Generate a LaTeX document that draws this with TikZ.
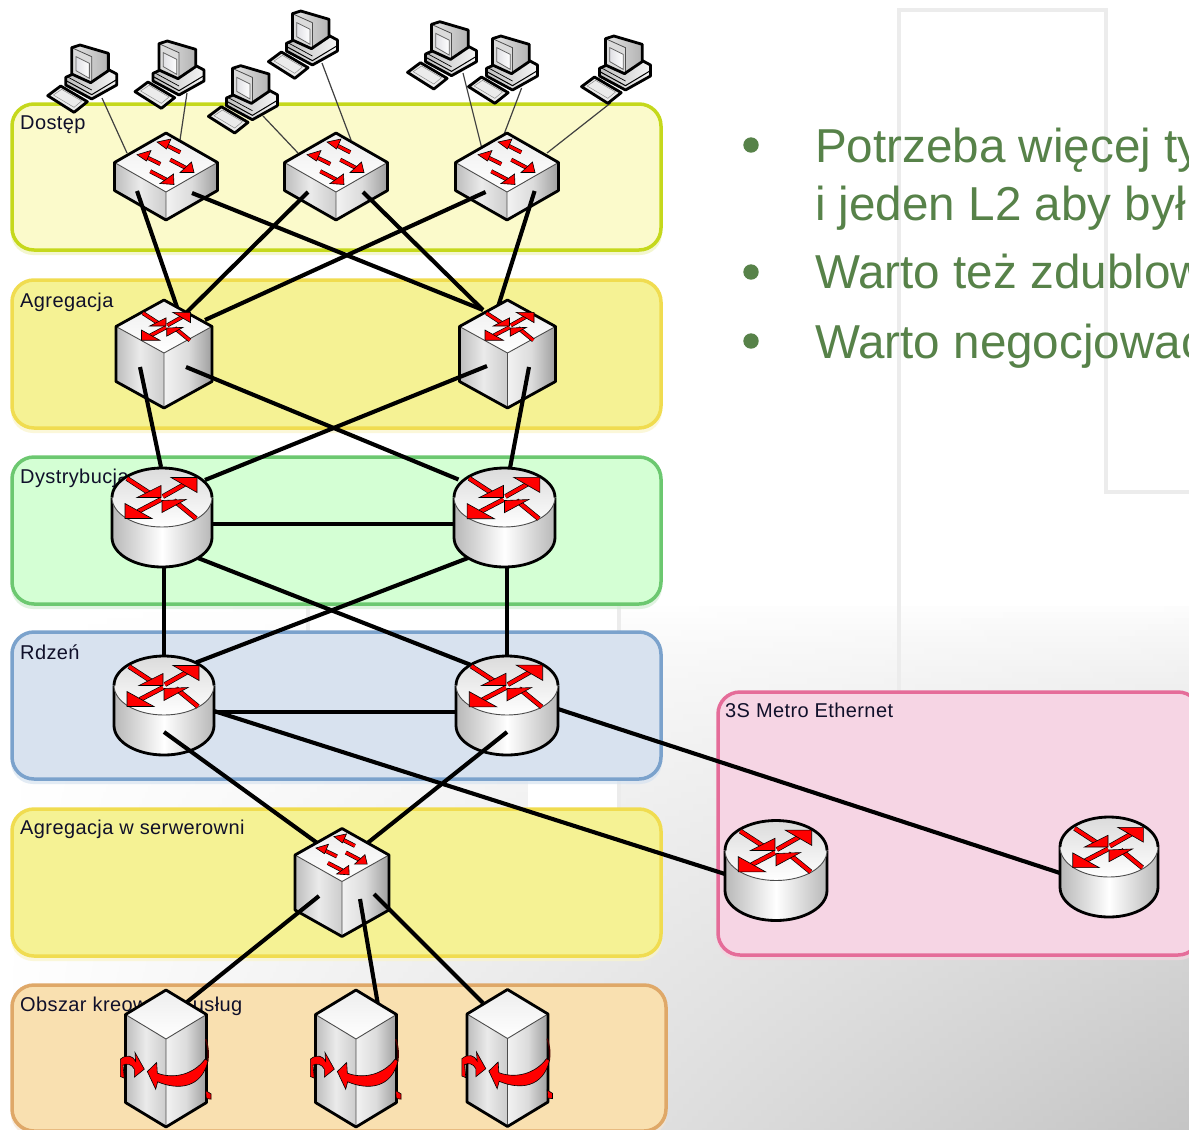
\documentclass[tikz,border=0pt]{standalone}
\usepackage{fontspec}
\setmainfont{Liberation Sans}
\newfontfamily\labfont[LetterSpace=2]{Liberation Sans}
\usetikzlibrary{calc}
\definecolor{accS}{HTML}{C5D81C}\definecolor{accF}{HTML}{FBFACB}
\definecolor{aggS}{HTML}{F0DC50}\definecolor{aggF}{HTML}{F5F294}
\definecolor{disS}{HTML}{6CC870}\definecolor{disF}{HTML}{D4FFD4}
\definecolor{corS}{HTML}{7BA2CC}\definecolor{corF}{HTML}{D8E2EF}
\definecolor{srvS}{HTML}{DFA868}\definecolor{srvF}{HTML}{F9E0B0}
\definecolor{metS}{HTML}{E56C99}\definecolor{metF}{HTML}{F6D5E4}
\definecolor{bulletgreen}{HTML}{578249}
\definecolor{framegray}{HTML}{ECECEC}
\definecolor{labelink}{HTML}{10102A}
\tikzset{
  zonebox/.style={rounded corners=22pt,line width=3.5pt,inner sep=0pt,outer sep=0pt},
  zonelabel/.style={anchor=west,inner sep=0pt,text=labelink,font=\labfont\fontsize{20}{24}\selectfont},
  bullettext/.style={anchor=base west,inner sep=0pt,text=bulletgreen,font=\fontsize{47.6}{58}\selectfont},
  bulletdot/.style={circle,fill=bulletgreen,minimum size=15.4pt,inner sep=0pt},
  devpoint/.style={inner sep=0pt,outer sep=0pt,minimum size=0pt},
  link/.style={line width=4.1pt,black},
  thinlink/.style={line width=1.2pt,black!75},
  edgeout/.style={line width=2.8pt,black,line join=round},
  edgein/.style={line width=.9pt,black!70,line join=round},
  redhead/.style={fill=red,draw=black,line width=.6pt,line join=miter},
}
% red arrow shaft
\newcommand{\rdshaft}[3]{%
  \draw[line width=#3pt+1.3pt,black] #1 -- #2;
  \draw[line width=#3pt,red] #1 -- #2;}
% four-arrow symbol of a switch, origin at the top corner
\newcommand{\swsymbol}{%
  \rdshaft{(14.3,19.3)}{(-2,11)}{2.8}
  \rdshaft{(-5.7,31)}{(-22,23)}{2.8}
  \rdshaft{(4.3,26.7)}{(20,35)}{2.8}
  \rdshaft{(-15.7,38.3)}{(0,46.5)}{2.8}
  \draw[redhead] (-9,9) -- (5,6) -- (0.5,16) -- cycle;
  \draw[redhead] (-29,21.7) -- (-15,17.5) -- (-19.5,28) -- cycle;
  \draw[redhead] (28,39.5) -- (14,39.5) -- (25.5,29) -- cycle;
  \draw[redhead] (8,51.5) -- (-6,50.5) -- (7.5,41) -- cycle;}
% four-arrow symbol of a router, origin at the crossing
\newcommand{\rtsymbol}[1]{%
  \rdshaft{(-35,-19)}{(-12,-4)}{#1}
  \rdshaft{(1,-1)}{(24,-14)}{#1}
  \rdshaft{(34,21)}{(12,3)}{#1}
  \rdshaft{(-1,2)}{(-24,14)}{#1}
  \draw[redhead] (-1,0) -- (-1,-12) -- (-25,0) -- cycle;
  \draw[redhead] (35,-20) -- (35,-5) -- (9,-20) -- cycle;
  \draw[redhead] (0,3) -- (0,15) -- (24,2) -- cycle;
  \draw[redhead] (-37,21) -- (-37,6) -- (-10,21) -- cycle;}
% isometric box: name, half width, half diamond height, height
\newcommand{\isobody}[4]{%
  \pgfmathsetmacro\tY{-#3-#4/2}\pgfmathsetmacro\mY{-#4/2}%
  \pgfmathsetmacro\fY{#3-#4/2}\pgfmathsetmacro\lY{#4/2}\pgfmathsetmacro\bY{#3+#4/2}%
  \shade[left color=black!26,right color=black!20,middle color=black!8]
    (-#2,\mY) -- (0,\fY) -- (0,\bY) -- (-#2,\lY) -- cycle;
  \shade[left color=black!5,right color=black!38,middle color=black!14]
    (#2,\mY) -- (0,\fY) -- (0,\bY) -- (#2,\lY) -- cycle;
  \shade[top color=black!7,bottom color=white]
    (0,\tY) -- (#2,\mY) -- (0,\fY) -- (-#2,\mY) -- cycle;
  \draw[edgein] (-#2,\mY) -- (0,\fY) -- (#2,\mY) (0,\fY) -- (0,\bY);
  \draw[edgeout] (0,\tY) -- (#2,\mY) -- (#2,\lY) -- (0,\bY) -- (-#2,\lY) -- (-#2,\mY) -- cycle;}
\newcommand{\switchdev}[5]{% name,w,h,dz,scale
  \begin{scope}[shift={(#1)}]
    \isobody{#1}{#2}{#3}{#4}
    \begin{scope}[shift={(0,\tY)},scale=#5]\swsymbol\end{scope}
  \end{scope}}
\newcommand{\cubedev}[1]{%
  \begin{scope}[shift={(#1)}]
    \isobody{#1}{48}{26.5}{55}
    \begin{scope}[shift={(2.7,-28)},scale=.68]\rtsymbol{2.8}\end{scope}
  \end{scope}}
% router cylinder: name, rx, ry, height
\newcommand{\routerdev}[4]{%
  \begin{scope}[shift={(#1)}]
    \pgfmathsetmacro\uY{-#4/2}\pgfmathsetmacro\dY{#4/2}%
    \shade[left color=black!28,right color=black!28,middle color=white]
      (-#2,\uY) -- (-#2,\dY) arc[start angle=180,end angle=360,x radius=#2pt,y radius=#3pt] -- (#2,\uY) -- cycle;
    \draw[edgeout] (-#2,\uY) -- (-#2,\dY) arc[start angle=180,end angle=360,x radius=#2pt,y radius=#3pt] -- (#2,\uY);
    \shade[top color=black!14,bottom color=white] (0,\uY) ellipse[x radius=#2pt,y radius=#3pt];
    \draw[edgein] (-#2,\uY) arc[start angle=180,end angle=360,x radius=#2pt,y radius=#3pt];
    \draw[edgeout] (-#2,\uY) arc[start angle=180,end angle=0,x radius=#2pt,y radius=#3pt];
    \begin{scope}[shift={(0,\uY)},scale=#2/50]\rtsymbol{3.6}\end{scope}
  \end{scope}}
% server: box with rotating arrow
\newcommand{\serverdev}[1]{%
  \begin{scope}[shift={(#1)}]
    \isobody{#1}{40.5}{24.5}{88}
    \begin{scope}[shift={(0,-68)},scale=1/3,shift={(-203,-92)}]
      \draw[line width=1.4pt,black!70!red] (322,238) .. controls (331,265) and (331,285) .. (328,305);
      \draw[redhead] (329,303) .. controls (310,385) and (240,392) .. (178,366) -- (172,388) -- (147,335) -- (175,308) -- (177,340) .. controls (225,358) and (285,345) .. (320,298) -- cycle;
      \draw[redhead] (66,298) .. controls (85,282) and (105,288) .. (112,305) -- (110,278) -- (138,328) -- (108,352) -- (108,328) .. controls (100,312) and (85,310) .. (74,316) -- (78,355) -- (66,350) -- cycle;
      \draw[redhead] (322,392) -- (338,402) -- (338,418) -- (324,416) -- cycle;
    \end{scope}
  \end{scope}}
% desktop computer
\newcommand{\pcdev}[1]{%
  \begin{scope}[shift={(#1)},shift={(-45,-35)},scale=1/3,shift={(-143,-135)}]
    \draw[edgeout,fill=black!8] (143,287) -- (182,258) -- (262,305) -- (222,337) -- cycle;
    \draw[black!45,line width=.5pt] (160,285) -- (185,268) -- (245,303) -- (222,322) -- cycle;
    \shade[left color=black!25,right color=black!4] (197,232) -- (197,255) -- (275,297) -- (350,255) -- (350,222) -- (290,190) -- cycle;
    \draw[edgeout] (197,232) -- (197,255) -- (275,297) -- (350,255) -- (350,222) -- (290,190) -- cycle;
    \draw[black,line width=1pt] (200,243) -- (275,284) -- (348,240);
    \draw[black,line width=.7pt] (205,232) -- (275,270);
    \shade[left color=black!10,right color=black!30] (215,143) -- (240,135) -- (325,160) -- (325,212) -- (272,248) -- (215,222) -- cycle;
    \fill[black!14] (215,143) -- (275,170) -- (275,250) -- (215,222) -- cycle;
    \shade[left color=blue!14!black!12,right color=white] (228,170) -- (268,190) -- (268,235) -- (228,212) -- cycle;
    \draw[black!60,line width=.8pt] (228,170) -- (268,190) -- (268,235) -- (228,212) -- cycle;
    \draw[edgein,line width=.8pt] (215,143) -- (275,170) -- (275,250);
    \draw[edgeout] (215,143) -- (240,135) -- (325,160) -- (325,212) -- (272,248) -- (215,222) -- cycle;
  \end{scope}}

\begin{document}
\begin{tikzpicture}[x=1pt,y=-1pt]
\useasboundingbox (0,0) rectangle (1189,1130);
\clip (0,0) rectangle (1189,1130);
\fill[white] (0,0) rectangle (1189,1130);
% slide background
\foreach \yy in {600,606,...,1128}{
  \pgfmathsetmacro\gg{23*((\yy-600+.01)/530)^.7}
  \shade[left color=white,right color=black!\gg!white] (0,\yy) rectangle (1189,\yy+6.6);
}
\fill[white] (310,604) rectangle (617,634);
\fill[white] (528,778) rectangle (617,810);
\fill[framegray] (306,604) rectangle (310,634);
\fill[framegray] (617,604) rectangle (621,634);
\fill[framegray] (617,778) rectangle (621,810);
\draw[framegray,line width=3.6pt] (899,695) -- (899,10) -- (1106,10) -- (1106,492) -- (1195,492);
% zones
\foreach \nm/\cy/\hh/\ww/\cx/\st/\fl in {zA/177/146/649/336.5/accS/accF,zB/354/148/649/336.5/aggS/aggF,zC/530.5/147/649/336.5/disS/disF,zD/705.5/147/649/336.5/corS/corF,zE/882.5/147/649/336.5/aggS/aggF,zF/1058/146/654/339/srvS/srvF,zG/823.5/263/482/959/metS/metF}{
  \fill[\st!30,opacity=.7,rounded corners=22pt] (\cx-\ww/2-1,\cy-\hh/2+4) rectangle (\cx+\ww/2+1,\cy+\hh/2+5);
  \node[zonebox,draw=\st,fill=\fl,minimum width=\ww pt,minimum height=\hh pt] (\nm) at (\cx,\cy) {};
}
% zone labels
\node[zonelabel] (lA) at (20,124.5) {Dostęp};
\node[zonelabel] (lB) at (20,302) {Agregacja};
\node[zonelabel] (lC) at (20,478) {Dystrybucja};
\node[zonelabel] (lD) at (20,652) {Rdzeń};
\node[zonelabel] (lE) at (20,829) {Agregacja w serwerowni};
\node[zonelabel] (lF) at (20,1006) {Obszar kreowania usług};
\node[zonelabel] (lG) at (725,710.5) {3S Metro Ethernet};
% bullets
\node[bulletdot] (b1) at (751,145) {};
\node[bullettext] (t1) at (815,162) {Potrzeba więcej ty};
\node[bullettext] (t2) at (815,220) {i jeden L2 aby był};
\node[bulletdot] (b2) at (751,272) {};
\node[bullettext] (t3) at (815,288) {Warto też zdublow};
\node[bulletdot] (b3) at (751,341) {};
\node[bullettext] (t4) at (815,358) {Warto negocjować};
% device reference points
\foreach \nm/\xx/\yy in {pc1/92.7/80,pc2/180/76,pc3/253.4/100.7,pc4/313.4/46,pc5/452.5/56.7,pc6/513.5/71,pc7/626.5/71,
  sw1/166/176.5,sw2/336/176.5,sw3/507/176.5,ag1/164/354,ag2/507.5/354,ds1/162/517.5,ds2/504.5/517.5,
  cr1/164/705.5,cr2/507/705.5,ssw/342/882.5,mt1/776/870.5,mt2/1109/867,sv1/166/1058.5,sv2/356/1058.5,sv3/507.5/1058}{
  \node[devpoint] (\nm) at (\xx,\yy) {};
}
% access links
\draw[thinlink] ($(pc1)+(9.3,18)$) -- ($(sw1)+(-39,-23.5)$);
\draw[thinlink] ($(pc2)+(7,17)$) -- ($(sw1)+(14,-36.5)$);
\draw[thinlink] ($(pc3)+(9.6,15.3)$) -- ($(sw2)+(-38,-23.5)$);
\draw[thinlink] ($(pc4)+(8.6,17)$) -- ($(sw2)+(15,-36.5)$);
\draw[thinlink] ($(pc5)+(10.5,16.3)$) -- ($(sw3)+(-25.5,-29.5)$);
\draw[thinlink] ($(pc6)+(8.1,17)$) -- ($(sw3)+(-4,-39.5)$);
\draw[thinlink] ($(pc7)+(-15.9,32)$) -- ($(sw3)+(40,-23.5)$);
\pcdev{pc4}\pcdev{pc3}\pcdev{pc1}\pcdev{pc2}\pcdev{pc5}\pcdev{pc6}\pcdev{pc7}
% switches
\switchdev{sw1}{51.5}{29.5}{28}{1}
\switchdev{sw2}{51.5}{29.5}{28}{1}
\switchdev{sw3}{51.5}{29.5}{28}{1}
\draw[link] ($(sw1)+(-29,14.5)$) -- ($(ag1)+(14,-44)$);
\draw[link] ($(sw1)+(26,16.5)$) -- ($(ag2)+(-24.5,-44)$);
\draw[link] ($(sw2)+(-28,15.5)$) -- ($(ag1)+(23,-42)$);
\draw[link] ($(sw2)+(27,15.5)$) -- ($(ag2)+(-24.5,-44)$);
\draw[link] ($(sw3)+(-21.4,15.5)$) -- ($(ag1)+(41,-34)$);
\draw[link] ($(sw3)+(27.6,14.5)$) -- ($(ag2)+(-10.5,-44)$);
\cubedev{ag1}
\cubedev{ag2}
\draw[link] ($(ag1)+(-24,13)$) -- ($(ds1)+(-1,-50.5)$);
\draw[link] ($(ag1)+(22,13)$) -- ($(ds2)+(-46,-38)$);
\draw[link] ($(ag2)+(-20.5,12)$) -- ($(ds1)+(43,-37.5)$);
\draw[link] ($(ag2)+(21.5,13)$) -- ($(ds2)+(5.5,-49.5)$);
\draw[link] ($(ds1)+(50,6.5)$) -- ($(ds2)+(-49.5,6.5)$);
\routerdev{ds1}{50}{29.5}{40}
\routerdev{ds2}{50.5}{29.5}{40}
\draw[link] ($(ds1)+(2,49.5)$) -- ($(cr1)+(0,-48.5)$);
\draw[link] ($(ds1)+(36,40.5)$) -- ($(cr2)+(-36,-40.5)$);
\draw[link] ($(ds2)+(-36.5,40.5)$) -- ($(cr1)+(32,-43)$);
\draw[link] ($(ds2)+(2.5,49.5)$) -- ($(cr2)+(0,-48.5)$);
\draw[link] ($(cr1)+(50,6.5)$) -- ($(cr2)+(-51,6.5)$);
\routerdev{cr1}{50}{29.5}{40}
\routerdev{cr2}{51}{29.5}{40}
\draw[link] ($(cr1)+(0,26.5)$) -- ($(ssw)+(-22,-37.5)$);
\draw[link] ($(cr2)+(0,26.5)$) -- ($(ssw)+(23,-37.5)$);
\draw[link] ($(cr1)+(50,5.5)$) -- ($(mt1)+(-51,3.5)$);
\draw[link] ($(cr2)+(51,3.5)$) -- ($(mt2)+(-49,6)$);
\switchdev{ssw}{47}{26.5}{55}{.9}
\routerdev{mt1}{51}{30}{40}
\routerdev{mt2}{49}{30}{40}
\draw[link] ($(ssw)+(-23,13.5)$) -- ($(sv1)+(21,-56.5)$);
\draw[link] ($(ssw)+(18,16.5)$) -- ($(sv2)+(22,-53.5)$);
\draw[link] ($(ssw)+(32,11.5)$) -- ($(sv3)+(-24.5,-55)$);
\serverdev{sv1}
\serverdev{sv2}
\serverdev{sv3}
\end{tikzpicture}
\end{document}
